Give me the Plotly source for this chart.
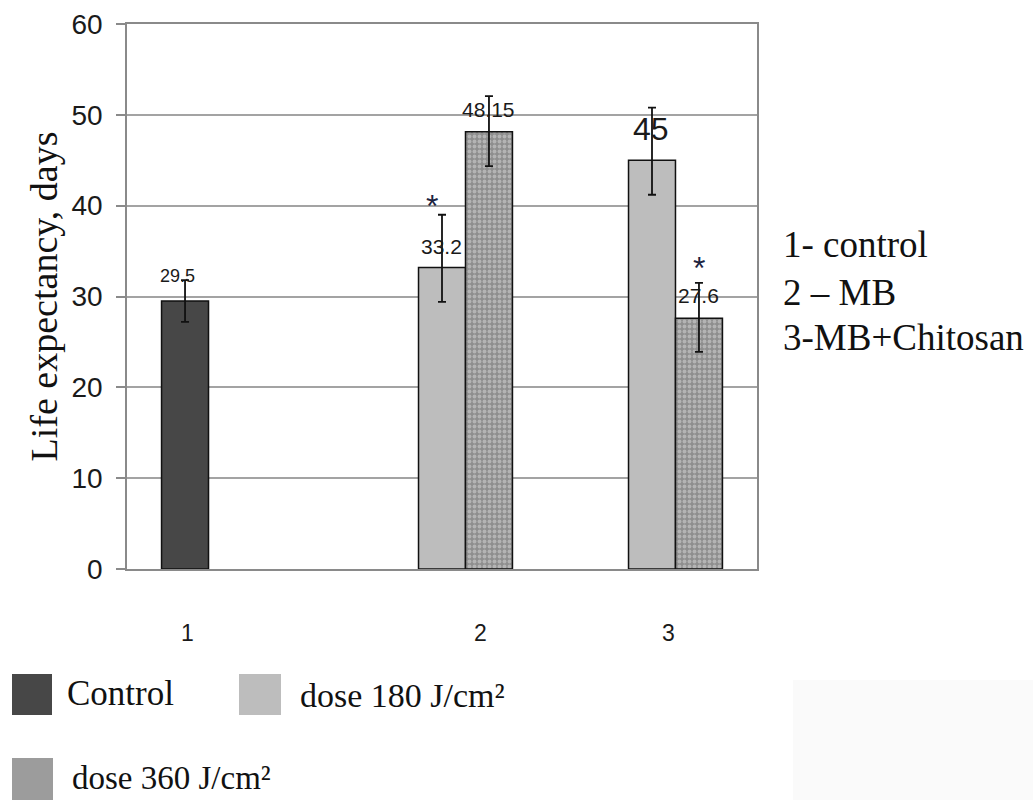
import plotly.graph_objects as go

# ---------------- data ----------------
categories = ["1", "2", "3"]
series_names = ["Control", "dose 180 J/cm²", "dose 360 J/cm²"]
control_vals = [29.5, None, None]
dose180_vals = [None, 33.2, 45.0]
dose360_vals = [None, 48.15, 27.6]
control_err_plus = [2.3, 0, 0]
control_err_minus = [2.3, 0, 0]
dose180_err_plus = [0, 5.8, 5.8]
dose180_err_minus = [0, 3.8, 3.8]
dose360_err_plus = [0, 3.9, 3.9]
dose360_err_minus = [0, 3.8, 3.7]
# significance marks: (series index, category, y level)
star_series = [1, 2]
star_cats = ["2", "3"]
star_levels = [40.8, 34.0]
group_notes = ["1- control", "2 – MB", "3-MB+Chitosan"]
y_ticks = [0, 10, 20, 30, 40, 50, 60]

# ---------------- layout constants ----------------
W, H = 1033, 800
L, R, T, B = 127, 757, 24, 569          # plot area in pixels
SERIF = "Liberation Serif, Times New Roman, serif"
SANS = "Liberation Sans, Arial, sans-serif"
GRID = "#a3a3a3"
AXIS = "#8a8a8a"


def px(xp):
    return (xp - L) / (R - L)


def py(yp):
    return (B - yp) / (B - T)


xpos = list(range(len(categories)))

fig = go.Figure()

err_style = dict(type="data", symmetric=False, color="#111111", thickness=1.8, width=4)

fig.add_trace(go.Bar(
    name=series_names[0], x=xpos, y=control_vals,
    marker=dict(color="#474747", line=dict(color="#111111", width=1.5)),
    error_y=dict(array=control_err_plus, arrayminus=control_err_minus, **err_style),
))
fig.add_trace(go.Bar(
    name=series_names[1], x=xpos, y=dose180_vals,
    marker=dict(color="#bdbdbd", line=dict(color="#111111", width=1.5)),
    error_y=dict(array=dose180_err_plus, arrayminus=dose180_err_minus, **err_style),
))
fig.add_trace(go.Bar(
    name=series_names[2], x=xpos, y=dose360_vals,
    marker=dict(color="#8e8e8e", line=dict(color="#111111", width=1.5),
                pattern=dict(shape=".", fgcolor="#dadada", size=5, solidity=0.45)),
    error_y=dict(array=dose360_err_plus, arrayminus=dose360_err_minus, **err_style),
))

annotations = []
shapes = []

BARGAP = 0.329
# slot offsets (px) of each series inside a category cluster
slot_w = (R - L) / len(categories) * (1 - BARGAP) / 3
slot_off = [-slot_w, 0, slot_w]

# value labels: per series/category style adjustments (xshift, yshift, size)
label_style = {
    (0, "1"): (-8, 25, 18),
    (1, "2"): (-1, 21, 21),
    (2, "2"): (0, 22, 21),
    (1, "3"): (-1, 31, 32),
    (2, "3"): (0, 23, 21),
}
all_vals = [control_vals, dose180_vals, dose360_vals]
for si, vals in enumerate(all_vals):
    for ci, v in enumerate(vals):
        if v is None:
            continue
        cat = categories[ci]
        dx, dy, size = label_style[(si, cat)]
        annotations.append(dict(
            x=xpos[ci], y=v, xref="x", yref="y", text=f"{v:g}", showarrow=False,
            xshift=slot_off[si] + dx, yshift=dy,
            font=dict(family=SANS, size=size, color="#1a1a1a"),
        ))

for s, c, lvl in zip(star_series, star_cats, star_levels):
    ci = categories.index(c)
    annotations.append(dict(
        x=xpos[ci], y=lvl, xref="x", yref="y", text="*", showarrow=False,
        xshift=slot_off[s] + (-10 if s == 1 else 0), yshift=-8,
        font=dict(family=SANS, size=32, color="#1c2340"),
    ))

# category numbers below the axis (hand-placed in the original)
cat_label_px = [187, 480, 668]
for c, xp in zip(categories, cat_label_px):
    annotations.append(dict(
        x=px(xp), y=py(633), xref="paper", yref="paper", text=c, showarrow=False,
        xanchor="center", yanchor="middle",
        font=dict(family=SANS, size=23, color="#1a1a1a"),
    ))

# group notes to the right
for note, yp in zip(group_notes, [245, 292, 338]):
    annotations.append(dict(
        x=px(781), y=py(yp), xref="paper", yref="paper", text=note, showarrow=False,
        xanchor="left", yanchor="middle",
        font=dict(family=SERIF, size=37, color="#111111"),
    ))

# faint scan patch at lower right of the original figure
shapes.append(dict(type="rect", xref="paper", yref="paper", layer="below",
                   x0=px(793), x1=px(W), y0=py(H), y1=py(680),
                   fillcolor="#fafafa", line=dict(width=0)))

# custom legend
legend_items = [
    (series_names[0], (12, 674, 52, 715), 65, 693, "#474747", 35),
    (series_names[1], (239, 674, 281, 715), 298, 695, "#bdbdbd", 34),
    (series_names[2], (12, 758, 53, 800), 70, 778, "#9c9c9c", 33),
]
for name, (x0, y0, x1, y1), tx, ty, col, fs in legend_items:
    shapes.append(dict(type="rect", xref="paper", yref="paper",
                       x0=px(x0), x1=px(x1), y0=py(y1), y1=py(y0),
                       fillcolor=col, line=dict(width=0)))
    annotations.append(dict(
        x=px(tx), y=py(ty), xref="paper", yref="paper", text=name, showarrow=False,
        xanchor="left", yanchor="middle",
        font=dict(family=SERIF, size=fs, color="#111111"),
    ))

fig.update_layout(
    width=W, height=H,
    margin=dict(l=L, r=W - R, t=T, b=H - B, pad=0),
    paper_bgcolor="white", plot_bgcolor="white",
    barmode="group", bargap=BARGAP, bargroupgap=0,
    showlegend=False,
    annotations=annotations, shapes=shapes,
    xaxis=dict(
        range=[-0.5, len(categories) - 0.5],
        tickvals=xpos, ticktext=categories,
        showticklabels=False, ticks="", showgrid=False, zeroline=False,
        showline=True, linecolor=AXIS, linewidth=1.5, mirror=True,
        automargin=False,
    ),
    yaxis=dict(
        range=[0, 60], tickvals=y_ticks, showgrid=True, gridcolor=GRID, gridwidth=1.5,
        zeroline=False, showline=True, linecolor=AXIS, linewidth=1.5, mirror=True,
        ticks="outside", ticklen=9, tickwidth=1.5, tickcolor=AXIS,
        ticklabelstandoff=8,
        tickfont=dict(family=SANS, size=28, color="#1a1a1a"),
        title=dict(text="Life expectancy, days", standoff=2,
                   font=dict(family=SERIF, size=38, color="#111111")),
        automargin=False,
    ),
)

fig.write_html("out.html", config={"displayModeBar": False},
               post_script="document.body.style.margin='0';")
